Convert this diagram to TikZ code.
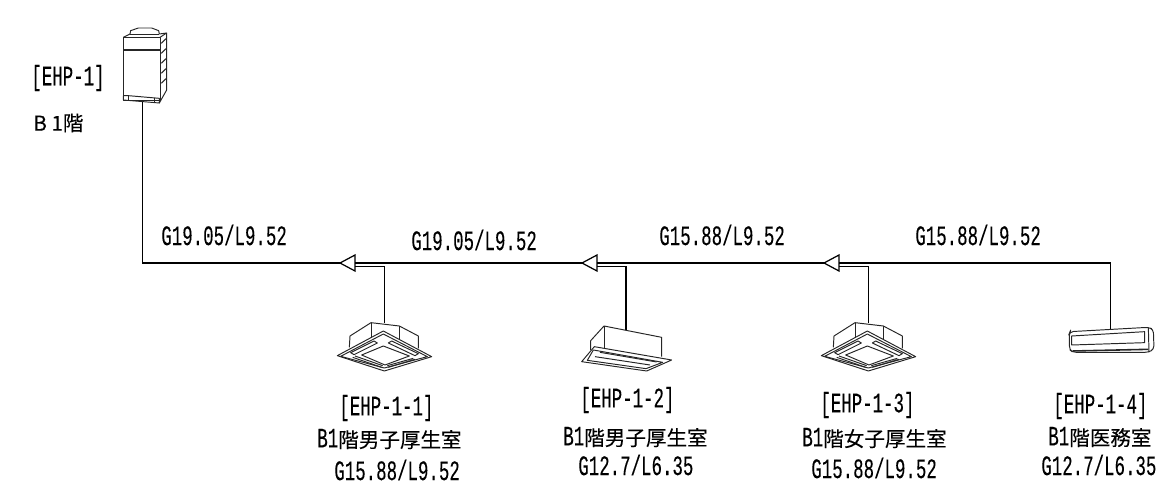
\documentclass[tikz,border=0pt]{standalone}
\usepackage{fontspec}
\setmainfont[FakeBold=0.1]{Noto Sans CJK JP}
\newfontfamily\pipefont[FakeStretch=0.62,FakeBold=0.12]{Liberation Mono}
\usetikzlibrary{calc}
\tikzset{
  pipe/.style={draw=black, line width=0.7pt, line join=miter},
  unit/.style={draw=black!85, line width=0.55pt, line join=round},
  tag/.style={inner sep=0pt, anchor=west, text=black, font=\pipefont\fontsize{16}{16}\selectfont},
  room/.style={inner sep=0pt, anchor=west, text=black, font=\fontsize{11.7}{12}\selectfont},
  cassette/.pic={
    \begin{scope}[x=0.00667cm,y=-0.00667cm]
      \draw[unit] (148,352)--(150,318)--(213,278)--(298,288)--(355,318)--(355,355);
      \draw[unit] (213,278)--(213,322) (298,288)--(298,330);
      \draw[unit] (112,377)--(250,303)--(395,380)--(253,423)--cycle;
      \draw[unit] (122,379)--(250,312)--(382,380)--(253,414)--cycle;
      \draw[unit] (185,375)--(250,348)--(328,378)--(255,405)--cycle;
      \draw[unit] (152,368)--(222,333)--(232,339)--(162,374)--cycle;
      \draw[unit] (265,339)--(275,333)--(355,371)--(345,377)--cycle;
      \draw[unit] (158,382)--(245,412) (165,378)--(248,407);
      \draw[unit] (265,412)--(345,388) (262,407)--(340,385);
    \end{scope}
  },
}
\newcommand{\bone}{{\pipefont\fontsize{16}{16}\selectfont B1}}
\begin{document}
\begin{tikzpicture}[x=0.02cm,y=-0.02cm]
  \useasboundingbox (0,0) rectangle (1158,486);

  % outdoor unit
  \begin{scope}[x=0.00667cm,y=-0.00667cm]
    \draw[unit] (370,112) rectangle (480,300);
    \draw[unit, line width=0.9pt] (370,150)--(480,150);
    \draw[unit] (370,112)--(390,102)--(392,92)--(415,84)--(455,84)--(476,92)--(478,102)--(500,99)--(480,112);
    \draw[unit] (390,102)--(478,102);
    \draw[unit] (500,99)--(500,270)--(478,309)--(480,300);
    \draw[unit] (370,287)--(370,300)--(478,309)--(478,295)--(385,287)--cycle;
    \draw[unit] (385,287)--(385,302) (463,293)--(463,308);
    \foreach \s in {130,160,190,220,250}
      \draw[unit] (484,\s)--(498,\s-14);
  \end{scope}

  % junctions
  \coordinate (odu) at (142.5,102);
  \coordinate (corner) at (142.5,263);
  \coordinate (tipA) at (340,263);
  \coordinate (baseA) at (355,263);
  \coordinate (tipB) at (582,263);
  \coordinate (baseB) at (597,263);
  \coordinate (tipC) at (824,263);
  \coordinate (baseC) at (839,263);
  \coordinate (endD) at (1110.5,263);
  \coordinate (idu1) at (384.5,323);
  \coordinate (idu2) at (626,330);
  \coordinate (idu3) at (868.5,323);
  \coordinate (idu4) at (1110.5,329);

  % piping
  \draw[pipe] (odu)--(corner)--(tipA);
  \draw[pipe] (baseA)--(tipB);
  \draw[pipe] (baseB)--(tipC);
  \draw[pipe] (baseC)--(endD)--(idu4);
  \foreach \t/\b/\u in {tipA/baseA/idu1, tipB/baseB/idu2, tipC/baseC/idu3}{
    \draw[pipe] (\t)--($(\b)+(0,-8)$)--($(\b)+(0,8)$)--cycle;
    \draw[pipe] ($(\b)+(0,3.5)$)-|(\u);
  }

  % indoor units
  \pic at (300,230) {cassette};
  \pic at (784,230) {cassette};
  \begin{scope}[shift={(550,230)},x=0.00667cm,y=-0.00667cm]
    \draw[unit] (122,360)--(122,332)--(162,288)--(335,322)--(335,380);
    \draw[unit] (162,288)--(162,355);
    \draw[unit] (133,350)--(365,390)--(290,423)--(95,395)--cycle;
    \draw[unit] (130,360)--(338,397)--(288,416)--(112,391)--cycle;
    \draw[unit] (150,367)--(320,396) (135,380)--(300,405);
  \end{scope}
  \begin{scope}[shift={(1000,250)},x=0.00667cm,y=-0.00667cm]
    \draw[unit, rounded corners=2pt] (208,250)--(210,245)--(445,232)--(460,238)--(462,298)--(445,307)--(218,307)--(208,298)--cycle;
    \draw[unit] (215,258)--(434,245)--(434,278)--(215,285)--cycle;
    \draw[unit] (445,232)--(447,307);
    \draw[unit, line width=0.9pt] (218,303)--(445,298);
  \end{scope}

  % labels
  \node[tag] (oduname) at (31,78) {[EHP-1]};
  \node[room] (odufloor) at (33,123) {B 1階};
  \node[tag] (size1) at (161,235) {G19.05/L9.52};
  \node[tag] (size2) at (411,240) {G19.05/L9.52};
  \node[tag] (size3) at (659,235) {G15.88/L9.52};
  \node[tag] (size4) at (915,235) {G15.88/L9.52};

  \node[tag] (name1) at (339,408) {[EHP-1-1]};
  \node[room] (room1) at (317,439) {\bone 階男子厚生室};
  \node[tag] (dim1) at (334,470) {G15.88/L9.52};
  \node[tag] (name2) at (580,400) {[EHP-1-2]};
  \node[room] (room2) at (563,437) {\bone 階男子厚生室};
  \node[tag] (dim2) at (578,465) {G12.7/L6.35};
  \node[tag] (name3) at (820,405) {[EHP-1-3]};
  \node[room] (room3) at (802,438) {\bone 階女子厚生室};
  \node[tag] (dim3) at (811,468) {G15.88/L9.52};
  \node[tag] (name4) at (1053,406) {[EHP-1-4]};
  \node[room] (room4) at (1048,437) {\bone 階医務室};
  \node[tag] (dim4) at (1041,465) {G12.7/L6.35};
\end{tikzpicture}
\end{document}
